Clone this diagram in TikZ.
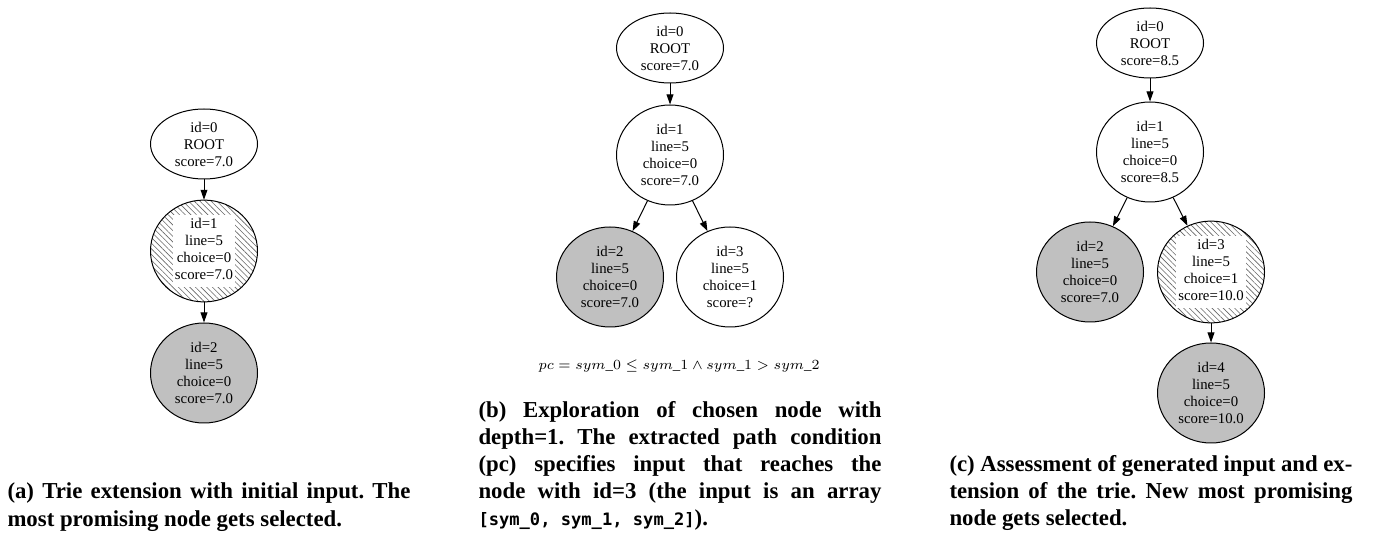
\documentclass[tikz,border=0pt]{standalone}
\usepackage{fontspec}
\setmainfont{Liberation Serif}
\setmonofont[Scale=0.75]{DejaVu Sans Mono}
\usetikzlibrary{positioning, shapes.geometric, arrows.meta, patterns.meta}
\frenchspacing

\definecolor{visited}{HTML}{C0C0C0}

% text of a selected node sits on a white box above the hatching
\newcommand{\seltext}[1]{{\setlength{\fboxsep}{1pt}\colorbox{white}{\begin{tabular}{@{}c@{}}#1\end{tabular}}}}

\tikzset{
  trie/.style={ellipse, draw, line width=0.5pt, minimum width=53.5pt, minimum height=50pt,
    inner sep=0pt, align=center, font=\fontsize{7.4}{8.5}\selectfont},
  root/.style={trie, minimum height=35pt},
  done/.style={fill=visited},
  chosen/.style={pattern={Lines[angle=-45,distance=2pt,line width=0.3pt]}, pattern color=black!60},
  subcap/.style={anchor=base west, text width=201.5pt, align=justify, inner sep=0pt,
    font=\fontsize{11.4}{13.5}\selectfont\bfseries},
}

\begin{document}
\begin{tikzpicture}[x=1pt,y=1pt,>={Triangle[length=5pt,width=3.4pt]},on grid,line width=0.5pt]
  \useasboundingbox (0,0) rectangle (690,-266.5);

  % (a) initial input
  \node[root] (a0) at (102,-72) {id=0\\ROOT\\score=7.0};
  \node[trie,chosen] (a1) [below=53.5pt of a0] {\seltext{id=1\\line=5\\choice=0\\score=7.0}};
  \node[trie,done] (a2) [below=61pt of a1] {id=2\\line=5\\choice=0\\score=7.0};

  \path[->]
    (a0) edge (a1)
    (a1) edge (a2);

  % (b) exploration with depth=1
  \node[root] (b0) at (335,-24) {id=0\\ROOT\\score=7.0};
  \node[trie] (b1) [below=53.5pt of b0] {id=1\\line=5\\choice=0\\score=7.0};
  \node[trie,done] (b2) [below left=61pt and 30pt of b1] {id=2\\line=5\\choice=0\\score=7.0};
  \node[trie] (b3) [below right=61pt and 30pt of b1] {id=3\\line=5\\choice=1\\score=?};

  \path[->]
    (b0) edge (b1)
    (b1) edge (b2)
         edge (b3);

  \node[anchor=base,font=\fontsize{7.4}{9}\selectfont] (pc) at (339.5,-185)
    {$pc = sym\_0 \leq sym\_1 \wedge sym\_1 > sym\_2$};

  % (c) assessment and extension
  \node[root] (c0) at (575,-21.5) {id=0\\ROOT\\score=8.5};
  \node[trie] (c1) [below=54.5pt of c0] {id=1\\line=5\\choice=0\\score=8.5};
  \node[trie,done] (c2) [below left=60pt and 30pt of c1] {id=2\\line=5\\choice=0\\score=7.0};
  \node[trie,chosen] (c3) [below right=60pt and 30.5pt of c1] {\seltext{id=3\\line=5\\choice=1\\score=10.0}};
  \node[trie,done] (c4) [below=60.5pt of c3] {id=4\\line=5\\choice=0\\score=10.0};

  \path[->]
    (c0) edge (c1)
    (c1) edge (c2)
         edge (c3)
    (c3) edge (c4);

  % sub-captions
  \node[subcap] (capa) at (3.5,-249.5)
    {(a) Trie extension with initial input. The\linebreak most promising node gets selected.};
  \node[subcap] (capb) at (239,-209)
    {(b) Exploration of chosen node with\linebreak depth=1. The extracted path condition\linebreak
     (pc) specifies input that reaches the\linebreak node with id=3 (the input is an array\linebreak
     \texttt{[sym\_0, sym\_1, sym\_2]}).};
  \node[subcap] (capc) at (474.5,-236)
    {(c) Assessment of generated input and ex-\linebreak tension of the trie. New most promising\linebreak
     node gets selected.};
\end{tikzpicture}
\end{document}
